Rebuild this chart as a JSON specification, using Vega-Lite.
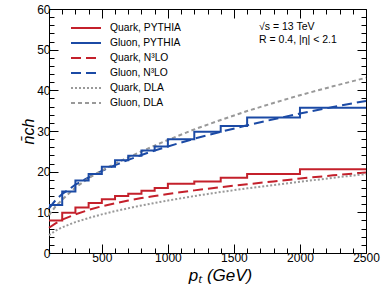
{
 "$schema": "https://vega.github.io/schema/vega-lite/v6.json",
 "width": 317, "height": 244,
 "autosize": "none",
 "padding": {"left": 49, "top": 9, "right": 20, "bottom": 38},
 "config": {
  "view": {"stroke": null},
  "font": "Liberation Sans",
  "axis": {"domainColor": "#000", "tickColor": "#000", "domainWidth": 1, "tickWidth": 1, "labelFont": "Liberation Sans", "labelFontSize": 12, "labelColor": "#000", "titleFont": "Liberation Sans", "titleColor": "#000", "titleFontSize": 16, "titleFontWeight": "normal", "grid": false, "labelFlush": false}
 },
 "data": {"values": [
  {"s":"Quark, PYTHIA","x":100,"y":8.0},{"s":"Quark, PYTHIA","x":200,"y":9.9},{"s":"Quark, PYTHIA","x":300,"y":11.2},{"s":"Quark, PYTHIA","x":400,"y":12.3},{"s":"Quark, PYTHIA","x":500,"y":13.2},{"s":"Quark, PYTHIA","x":600,"y":14.0},{"s":"Quark, PYTHIA","x":700,"y":14.6},{"s":"Quark, PYTHIA","x":800,"y":15.3},{"s":"Quark, PYTHIA","x":900,"y":16.0},{"s":"Quark, PYTHIA","x":1000,"y":17.0},{"s":"Quark, PYTHIA","x":1200,"y":17.6},{"s":"Quark, PYTHIA","x":1400,"y":18.5},{"s":"Quark, PYTHIA","x":1600,"y":19.4},{"s":"Quark, PYTHIA","x":2000,"y":20.6},{"s":"Quark, PYTHIA","x":2500,"y":20.6},
  {"s":"Gluon, PYTHIA","x":100,"y":11.8},{"s":"Gluon, PYTHIA","x":200,"y":15.1},{"s":"Gluon, PYTHIA","x":300,"y":17.8},{"s":"Gluon, PYTHIA","x":400,"y":19.4},{"s":"Gluon, PYTHIA","x":500,"y":21.2},{"s":"Gluon, PYTHIA","x":600,"y":22.8},{"s":"Gluon, PYTHIA","x":700,"y":23.9},{"s":"Gluon, PYTHIA","x":800,"y":25.2},{"s":"Gluon, PYTHIA","x":900,"y":26.2},{"s":"Gluon, PYTHIA","x":1000,"y":28.0},{"s":"Gluon, PYTHIA","x":1200,"y":29.8},{"s":"Gluon, PYTHIA","x":1400,"y":31.2},{"s":"Gluon, PYTHIA","x":1600,"y":33.3},{"s":"Gluon, PYTHIA","x":2000,"y":35.7},{"s":"Gluon, PYTHIA","x":2500,"y":35.7},
  {"s":"Quark, N³LO","x":100,"y":6.2},{"s":"Quark, N³LO","x":150,"y":7.3},{"s":"Quark, N³LO","x":200,"y":8.2},{"s":"Quark, N³LO","x":300,"y":9.5},{"s":"Quark, N³LO","x":400,"y":10.6},{"s":"Quark, N³LO","x":500,"y":11.5},{"s":"Quark, N³LO","x":600,"y":12.2},{"s":"Quark, N³LO","x":700,"y":12.9},{"s":"Quark, N³LO","x":800,"y":13.5},{"s":"Quark, N³LO","x":900,"y":14.0},{"s":"Quark, N³LO","x":1000,"y":14.5},{"s":"Quark, N³LO","x":1200,"y":15.4},{"s":"Quark, N³LO","x":1400,"y":16.2},{"s":"Quark, N³LO","x":1600,"y":16.9},{"s":"Quark, N³LO","x":1800,"y":17.6},{"s":"Quark, N³LO","x":2000,"y":18.3},{"s":"Quark, N³LO","x":2250,"y":19.1},{"s":"Quark, N³LO","x":2500,"y":19.8},
  {"s":"Gluon, N³LO","x":100,"y":11.0},{"s":"Gluon, N³LO","x":150,"y":13.0},{"s":"Gluon, N³LO","x":200,"y":14.5},{"s":"Gluon, N³LO","x":300,"y":16.8},{"s":"Gluon, N³LO","x":400,"y":18.6},{"s":"Gluon, N³LO","x":500,"y":20.2},{"s":"Gluon, N³LO","x":600,"y":21.6},{"s":"Gluon, N³LO","x":700,"y":22.9},{"s":"Gluon, N³LO","x":800,"y":24.1},{"s":"Gluon, N³LO","x":900,"y":25.2},{"s":"Gluon, N³LO","x":1000,"y":26.2},{"s":"Gluon, N³LO","x":1200,"y":28.1},{"s":"Gluon, N³LO","x":1400,"y":29.8},{"s":"Gluon, N³LO","x":1600,"y":31.4},{"s":"Gluon, N³LO","x":1800,"y":32.9},{"s":"Gluon, N³LO","x":2000,"y":34.3},{"s":"Gluon, N³LO","x":2250,"y":35.9},{"s":"Gluon, N³LO","x":2500,"y":37.4},
  {"s":"Quark, DLA","x":100,"y":4.4},{"s":"Quark, DLA","x":150,"y":5.5},{"s":"Quark, DLA","x":200,"y":6.3},{"s":"Quark, DLA","x":300,"y":7.6},{"s":"Quark, DLA","x":400,"y":8.6},{"s":"Quark, DLA","x":500,"y":9.5},{"s":"Quark, DLA","x":600,"y":10.3},{"s":"Quark, DLA","x":700,"y":11.0},{"s":"Quark, DLA","x":800,"y":11.7},{"s":"Quark, DLA","x":900,"y":12.3},{"s":"Quark, DLA","x":1000,"y":12.9},{"s":"Quark, DLA","x":1200,"y":14.0},{"s":"Quark, DLA","x":1400,"y":15.0},{"s":"Quark, DLA","x":1600,"y":15.9},{"s":"Quark, DLA","x":1800,"y":16.7},{"s":"Quark, DLA","x":2000,"y":17.5},{"s":"Quark, DLA","x":2250,"y":18.5},{"s":"Quark, DLA","x":2500,"y":19.4},
  {"s":"Gluon, DLA","x":100,"y":9.3},{"s":"Gluon, DLA","x":150,"y":11.5},{"s":"Gluon, DLA","x":200,"y":13.1},{"s":"Gluon, DLA","x":300,"y":16.1},{"s":"Gluon, DLA","x":400,"y":18.4},{"s":"Gluon, DLA","x":500,"y":20.3},{"s":"Gluon, DLA","x":600,"y":22.0},{"s":"Gluon, DLA","x":700,"y":23.5},{"s":"Gluon, DLA","x":800,"y":25.0},{"s":"Gluon, DLA","x":900,"y":26.4},{"s":"Gluon, DLA","x":1000,"y":27.8},{"s":"Gluon, DLA","x":1200,"y":30.4},{"s":"Gluon, DLA","x":1400,"y":32.7},{"s":"Gluon, DLA","x":1600,"y":34.9},{"s":"Gluon, DLA","x":1800,"y":36.9},{"s":"Gluon, DLA","x":2000,"y":38.8},{"s":"Gluon, DLA","x":2250,"y":41.0},{"s":"Gluon, DLA","x":2500,"y":43.1}
 ]},
 "layer": [
  {
   "transform": [{"filter": "indexof(['Quark, DLA','Gluon, DLA','Quark, N³LO','Gluon, N³LO'], datum.s) >= 0"}],
   "mark": {"type": "line", "strokeWidth": 2},
   "encoding": {
    "x": {"field": "x", "type": "quantitative", "scale": {"domain": [100, 2500], "nice": false, "zero": false},
      "axis": {"orient": "top", "values": [100,200,300,400,500,600,700,800,900,1000,1100,1200,1300,1400,1500,1600,1700,1800,1900,2000,2100,2200,2300,2400,2500], "labels": false, "title": null,
        "tickSize": {"condition": {"test": "datum.value % 500 === 0", "value": -9}, "value": -5}}},
    "y": {"field": "y", "type": "quantitative", "scale": {"domain": [0, 60], "nice": false},
      "axis": {"orient": "right", "values": [0,2,4,6,8,10,12,14,16,18,20,22,24,26,28,30,32,34,36,38,40,42,44,46,48,50,52,54,56,58,60], "labels": false, "title": null,
        "tickSize": {"condition": {"test": "datum.value % 10 === 0", "value": -9}, "value": -5}}},
    "color": {"field": "s", "type": "nominal", "scale": {"domain": ["Quark, PYTHIA","Gluon, PYTHIA","Quark, N³LO","Gluon, N³LO","Quark, DLA","Gluon, DLA"], "range": ["#c4202b","#1b4aa5","#c4202b","#1b4aa5","#999999","#999999"]},
      "legend": {"orient": "none", "legendX": 31, "legendY": 13, "title": null, "symbolType": "M-3,0H3", "symbolSize": 100, "symbolStrokeWidth": 2, "labelOffset": 18, "rowPadding": 3, "labelFontSize": 10.3, "labelFont": "Liberation Sans", "labelColor": "#000", "padding": 0}},
    "strokeDash": {"field": "s", "type": "nominal", "scale": {"domain": ["Quark, PYTHIA","Gluon, PYTHIA","Quark, N³LO","Gluon, N³LO","Quark, DLA","Gluon, DLA"], "range": [[1,0],[1,0],[10,5],[10,5],[2,2],[4,3]]},
      "legend": {"orient": "none", "legendX": 31, "legendY": 13, "title": null, "symbolType": "M-3,0H3", "symbolSize": 100, "symbolStrokeWidth": 2, "labelOffset": 18, "rowPadding": 3, "labelFontSize": 10.3, "labelFont": "Liberation Sans", "labelColor": "#000", "padding": 0}}
   }
  },
  {
   "transform": [{"filter": "indexof(['Quark, PYTHIA','Gluon, PYTHIA'], datum.s) >= 0"}],
   "mark": {"type": "line", "interpolate": "step-after", "strokeWidth": 2},
   "encoding": {
    "x": {"field": "x", "type": "quantitative", "scale": {"domain": [100, 2500], "nice": false, "zero": false},
      "axis": {"orient": "bottom", "values": [100,200,300,400,500,600,700,800,900,1000,1100,1200,1300,1400,1500,1600,1700,1800,1900,2000,2100,2200,2300,2400,2500], "format": "d",
        "labelExpr": "datum.value % 500 === 0 ? datum.label : ''", "title": "pₜ (GeV)", "titleFontStyle": "italic", "titleFontSize": 17, "titleX": 171,
        "tickSize": {"condition": {"test": "datum.value % 500 === 0", "value": -9}, "value": -5}, "labelPadding": 8, "titlePadding": 4}},
    "y": {"field": "y", "type": "quantitative", "scale": {"domain": [0, 60], "nice": false},
      "axis": {"orient": "left", "values": [0,2,4,6,8,10,12,14,16,18,20,22,24,26,28,30,32,34,36,38,40,42,44,46,48,50,52,54,56,58,60], "format": "d",
        "labelExpr": "datum.value % 10 === 0 ? datum.label : ''", "title": "n̄ch", "titleFontStyle": "italic",
        "tickSize": {"condition": {"test": "datum.value % 10 === 0", "value": -9}, "value": -5}, "labelPadding": 8, "titlePadding": 0}},
    "color": {"field": "s", "type": "nominal", "scale": {"domain": ["Quark, PYTHIA","Gluon, PYTHIA","Quark, N³LO","Gluon, N³LO","Quark, DLA","Gluon, DLA"], "range": ["#c4202b","#1b4aa5","#c4202b","#1b4aa5","#999999","#999999"]},
      "legend": {"orient": "none", "legendX": 31, "legendY": 13, "title": null, "symbolType": "M-3,0H3", "symbolSize": 100, "symbolStrokeWidth": 2, "labelOffset": 18, "rowPadding": 3, "labelFontSize": 10.3, "labelFont": "Liberation Sans", "labelColor": "#000", "padding": 0}},
    "strokeDash": {"field": "s", "type": "nominal", "scale": {"domain": ["Quark, PYTHIA","Gluon, PYTHIA","Quark, N³LO","Gluon, N³LO","Quark, DLA","Gluon, DLA"], "range": [[1,0],[1,0],[10,5],[10,5],[2,2],[4,3]]},
      "legend": {"orient": "none", "legendX": 31, "legendY": 13, "title": null, "symbolType": "M-3,0H3", "symbolSize": 100, "symbolStrokeWidth": 2, "labelOffset": 18, "rowPadding": 3, "labelFontSize": 10.3, "labelFont": "Liberation Sans", "labelColor": "#000", "padding": 0}}
   }
  },
  {
   "data": {"values": [{"t": "√s = 13 TeV"}]},
   "mark": {"type": "text", "align": "left", "baseline": "middle", "fontSize": 10.5, "font": "Liberation Sans", "color": "#000"},
   "encoding": {"text": {"field": "t"}, "x": {"datum": 1690, "type": "quantitative", "axis": null}, "y": {"datum": 55.6, "type": "quantitative", "axis": null}}
  },
  {
   "data": {"values": [{"t": "R = 0.4, |η| < 2.1"}]},
   "mark": {"type": "text", "align": "left", "baseline": "middle", "fontSize": 10.5, "font": "Liberation Sans", "color": "#000"},
   "encoding": {"text": {"field": "t"}, "x": {"datum": 1690, "type": "quantitative", "axis": null}, "y": {"datum": 52.3, "type": "quantitative", "axis": null}}
  }
 ],
 "resolve": {"axis": {"x": "independent", "y": "independent"}}
}
